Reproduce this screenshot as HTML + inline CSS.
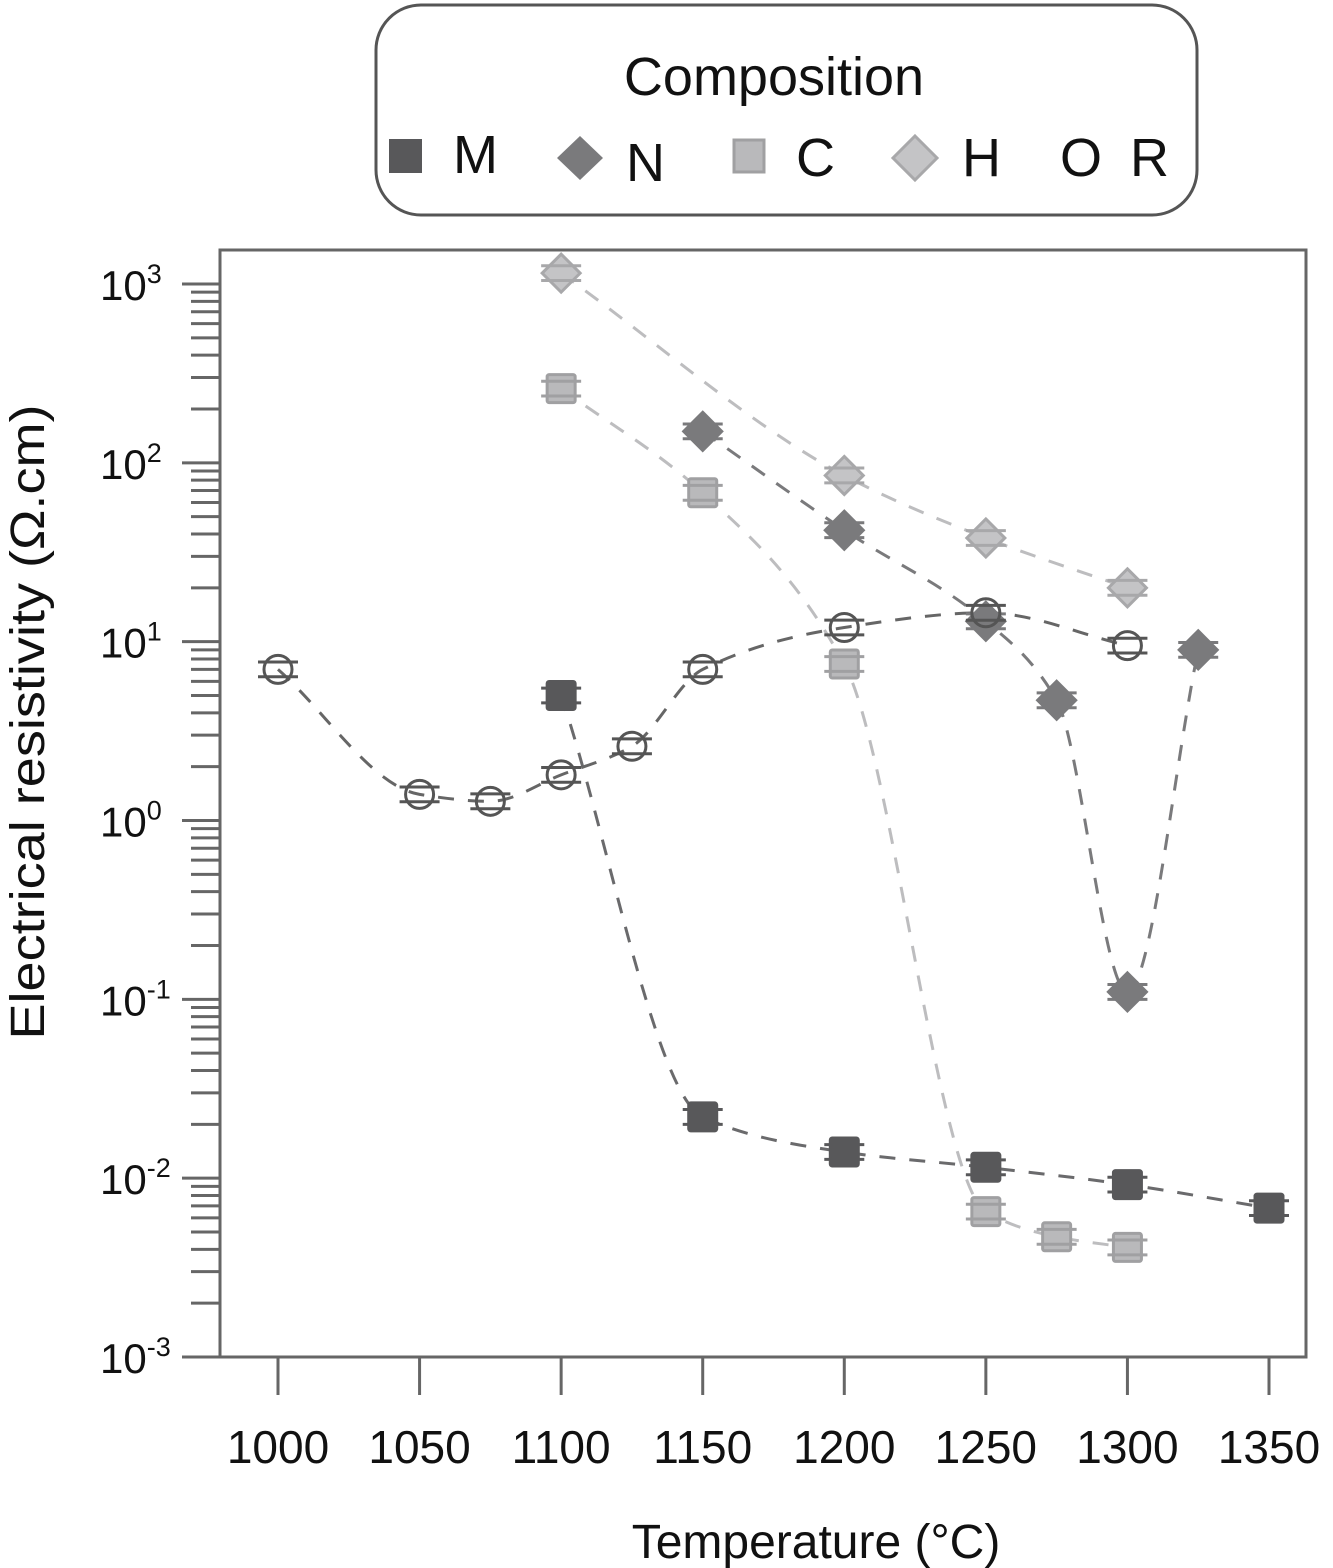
<!DOCTYPE html>
<html><head><meta charset="utf-8"><style>
html,body{margin:0;padding:0;background:#fff;}
svg{display:block;font-family:"Liberation Sans",sans-serif;}
</style></head><body>
<svg id="chart" width="1333" height="1568" viewBox="0 0 1333 1568" xmlns="http://www.w3.org/2000/svg">
<g id="legend">
<rect x="376" y="5" width="821" height="210" rx="45" fill="#fff" stroke="#555" stroke-width="3"/>
<text x="774" y="95" font-size="54" text-anchor="middle" fill="#111">Composition</text>
<g><rect x="389" y="139" width="33" height="34" fill="#58585a"/><text x="453" y="173" font-size="54" fill="#111">M</text></g>
<g><polygon points="580,136 603,158 580,180 557,158" fill="#7a7a7c"/><text x="626" y="181" font-size="54" fill="#111">N</text></g>
<g><rect x="734" y="140" width="30" height="32" fill="#b9b9bb" stroke="#a0a0a2" stroke-width="3"/><text x="796" y="176" font-size="54" fill="#111">C</text></g>
<g><polygon points="915,136 937,158 915,180 893,158" fill="#c4c4c6" stroke="#a8a8aa" stroke-width="3"/><text x="962" y="176" font-size="54" fill="#111">H</text></g>
<g><text x="1060" y="176" font-size="54" fill="#111">O</text><text x="1130" y="176" font-size="54" fill="#111">R</text></g>
</g>
<rect x="220" y="250" width="1086" height="1107" fill="none" stroke="#666" stroke-width="3"/>
<g id="axes"></g>
<g id="series"></g>
<text transform="translate(44,722) rotate(-90)" font-size="48" text-anchor="middle" textLength="635" lengthAdjust="spacingAndGlyphs" fill="#111">Electrical resistivity (Ω.cm)</text>
<text x="816" y="1558" font-size="48" text-anchor="middle" fill="#111">Temperature (°C)</text>
</svg>
<script>
const xTicks=[1000,1050,1100,1150,1200,1250,1300,1350];
const yDecades=[-3,-2,-1,0,1,2,3];
const mX=[1100,1150,1200,1250,1300,1350];
const mY=[5,0.022,0.014,0.0115,0.0092,0.0068];
const nX=[1150,1200,1250,1275,1300,1325];
const nY=[150,42,13,4.7,0.11,9];
const cX=[1100,1150,1200,1250,1275,1300];
const cY=[260,68,7.5,0.0065,0.0047,0.0041];
const hX=[1100,1200,1250,1300];
const hY=[1150,85,38,20];
const rX=[1000,1050,1075,1100,1125,1150,1200,1250,1300];
const rY=[7,1.4,1.28,1.8,2.6,7,12,14.5,9.5];

const NS="http://www.w3.org/2000/svg";
function X(t){return 278+(t-1000)*(1269-278)/350;}
function Y(v){return 1357-(Math.log10(v)+3)*(1357-284)/6;}
function mk(tag,attrs,parent){const e=document.createElementNS(NS,tag);for(const k in attrs)e.setAttribute(k,attrs[k]);parent.appendChild(e);return e;}
const axes=document.getElementById('axes');
const ser=document.getElementById('series');
const AX="#666";
xTicks.forEach(t=>{
  const l=mk('line',{x1:X(t),x2:X(t),y1:1357,y2:1395,stroke:AX,'stroke-width':3},axes);
  
  
  const tx=mk('text',{x:X(t),y:1463,'font-size':46,'text-anchor':'middle',fill:'#111'},axes);
  tx.textContent=t;
  
  
});
yDecades.forEach(d=>{
  const v=Math.pow(10,d);
  const l=mk('line',{x1:182,x2:220,y1:Y(v),y2:Y(v),stroke:AX,'stroke-width':3},axes);
  
  
  const tx=mk('text',{x:100,y:Y(v)+16,'font-size':42,fill:'#111'},axes);
  tx.innerHTML='10<tspan dy="-17" font-size="27">'+d+'</tspan>';
  
  
  if(d<3){for(let k=2;k<=9;k++){
    const m=mk('line',{x1:191,x2:220,y1:Y(k*v),y2:Y(k*v),stroke:AX,'stroke-width':3},axes);
    
    
  }}
});
function monotone(xs,ys){
  const px=xs.map(X),py=ys.map(Y),n=px.length;
  const d=[],m=[];
  for(let i=0;i<n-1;i++)d.push((py[i+1]-py[i])/(px[i+1]-px[i]));
  m[0]=d[0];m[n-1]=d[n-2];
  for(let i=1;i<n-1;i++){m[i]=0;
    const w1=2*(px[i+1]-px[i])+(px[i]-px[i-1]),w2=(px[i+1]-px[i])+2*(px[i]-px[i-1]);
    if(d[i-1]*d[i]>0)m[i]=(w1+w2)/(w1/d[i-1]+w2/d[i]);}
  let s='M'+px[0]+','+py[0];
  for(let i=0;i<n-1;i++){const h=(px[i+1]-px[i])/3;
    s+=' C'+(px[i]+h)+','+(py[i]+m[i]*h)+' '+(px[i+1]-h)+','+(py[i+1]-m[i+1]*h)+' '+px[i+1]+','+py[i+1];}
  return s;
}
const series=[
 {n:'m',x:mX,y:mY,shape:'sq',fill:'#58585a',stroke:'#58585a',line:'#6a6a6c'},
 {n:'n',x:nX,y:nY,shape:'di',fill:'#7a7a7c',stroke:'#7a7a7c',line:'#7a7a7c'},
 {n:'c',x:cX,y:cY,shape:'sq',fill:'#b9b9bb',stroke:'#a0a0a2',line:'#bdbdbf'},
 {n:'h',x:hX,y:hY,shape:'di',fill:'#c4c4c6',stroke:'#a8a8aa',line:'#bdbdbf'},
 {n:'r',x:rX,y:rY,shape:'ci',fill:'none',stroke:'#555',line:'#666'}];
series.forEach(s=>{
  const p=mk('path',{d:monotone(s.x,s.y),fill:'none',stroke:s.line,'stroke-width':3,'stroke-dasharray':'16 14'},ser);
  
  
});
series.forEach(s=>{
  s.x.forEach((t,i)=>{
    const cx=X(t),cy=Y(s.y[i]);
    const g=mk('g',{},ser);
    
    
    if(s.shape==='sq')mk('rect',{x:cx-14,y:cy-14,width:28,height:28,rx:2,fill:s.fill,stroke:s.stroke,'stroke-width':3},g);
    else if(s.shape==='di')mk('polygon',{points:`${cx},${cy-19} ${cx+19},${cy} ${cx},${cy+19} ${cx-19},${cy}`,fill:s.fill,stroke:s.stroke,'stroke-width':3},g);
    else mk('circle',{cx:cx,cy:cy,r:14,fill:'none',stroke:s.stroke,'stroke-width':3},g);
    [1.1,1/1.1].forEach(f=>mk('line',{x1:cx-20,x2:cx+20,y1:Y(s.y[i]*f),y2:Y(s.y[i]*f),stroke:s.stroke,'stroke-width':3},g));
  });
});
</script>
</body></html>
